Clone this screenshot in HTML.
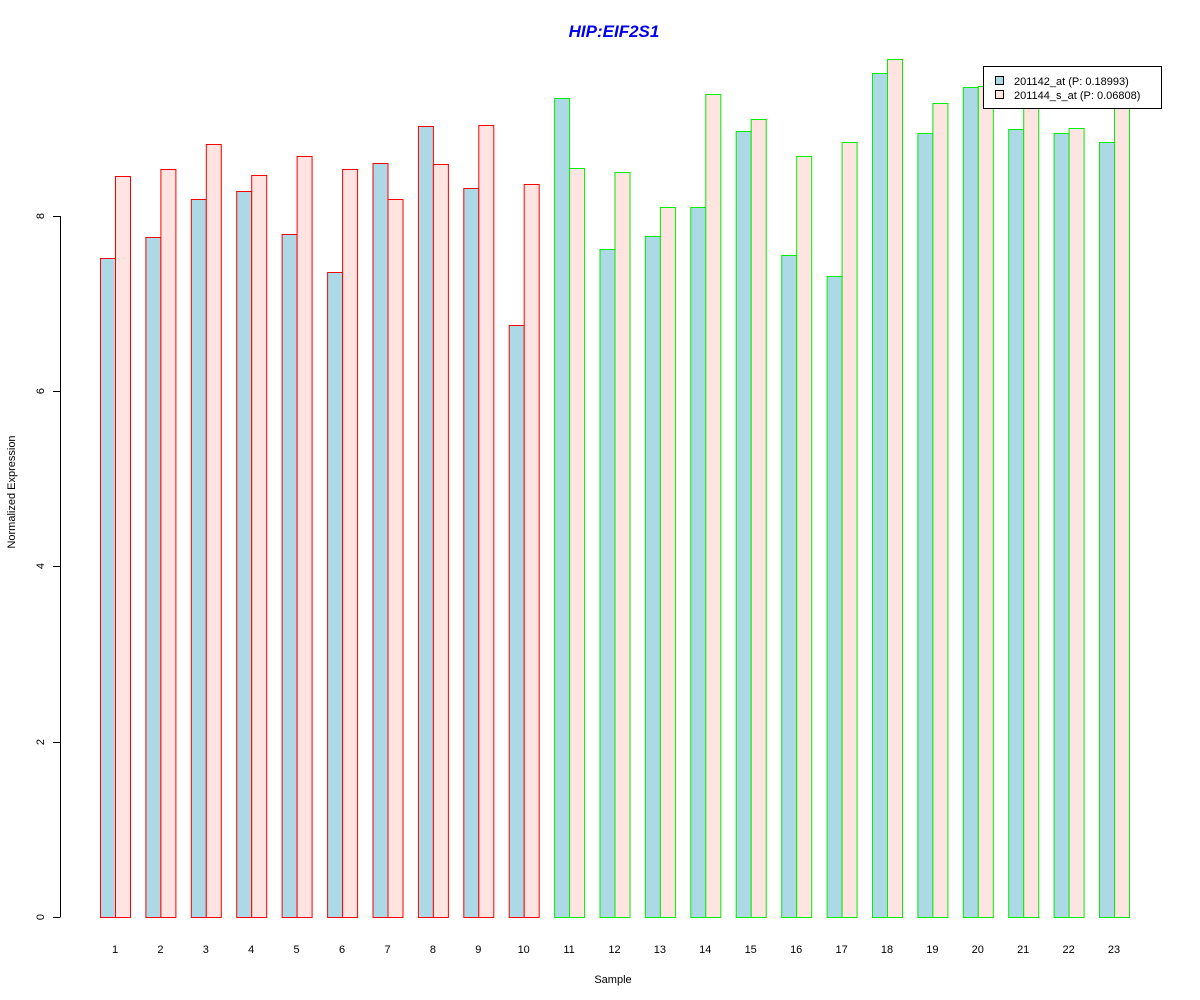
<!DOCTYPE html>
<html><head><meta charset="utf-8"><style>body{margin:0;background:#fff}svg{display:block}text{font-family:"Liberation Sans",Arial,sans-serif}</style></head>
<body>
<svg width="1200" height="1000" xmlns="http://www.w3.org/2000/svg">
<rect width="1200" height="1000" fill="#fff"/>
<text x="614" y="37" text-anchor="middle" font-size="17" font-weight="bold" font-style="italic" fill="#0000ee">HIP:EIF2S1</text>
<g stroke="#ff0000">
<rect x="100.5" y="258.5" width="15" height="659" fill="#ADD8E6"/><rect x="115.5" y="176.5" width="15" height="741" fill="#FFE4E1"/>
<rect x="145.9" y="237.5" width="15" height="680" fill="#ADD8E6"/><rect x="160.9" y="169.5" width="15" height="748" fill="#FFE4E1"/>
<rect x="191.3" y="199.5" width="15" height="718" fill="#ADD8E6"/><rect x="206.3" y="144.5" width="15" height="773" fill="#FFE4E1"/>
<rect x="236.7" y="191.5" width="15" height="726" fill="#ADD8E6"/><rect x="251.7" y="175.5" width="15" height="742" fill="#FFE4E1"/>
<rect x="282.1" y="234.5" width="15" height="683" fill="#ADD8E6"/><rect x="297.1" y="156.5" width="15" height="761" fill="#FFE4E1"/>
<rect x="327.6" y="272.5" width="15" height="645" fill="#ADD8E6"/><rect x="342.6" y="169.5" width="15" height="748" fill="#FFE4E1"/>
<rect x="373.0" y="163.5" width="15" height="754" fill="#ADD8E6"/><rect x="388.0" y="199.5" width="15" height="718" fill="#FFE4E1"/>
<rect x="418.4" y="126.5" width="15" height="791" fill="#ADD8E6"/><rect x="433.4" y="164.5" width="15" height="753" fill="#FFE4E1"/>
<rect x="463.8" y="188.5" width="15" height="729" fill="#ADD8E6"/><rect x="478.8" y="125.5" width="15" height="792" fill="#FFE4E1"/>
<rect x="509.2" y="325.5" width="15" height="592" fill="#ADD8E6"/><rect x="524.2" y="184.5" width="15" height="733" fill="#FFE4E1"/>
</g>
<g stroke="#00ee00">
<rect x="554.6" y="98.5" width="15" height="819" fill="#ADD8E6"/><rect x="569.6" y="168.5" width="15" height="749" fill="#FFE4E1"/>
<rect x="600.0" y="249.5" width="15" height="668" fill="#ADD8E6"/><rect x="615.0" y="172.5" width="15" height="745" fill="#FFE4E1"/>
<rect x="645.4" y="236.5" width="15" height="681" fill="#ADD8E6"/><rect x="660.4" y="207.5" width="15" height="710" fill="#FFE4E1"/>
<rect x="690.8" y="207.5" width="15" height="710" fill="#ADD8E6"/><rect x="705.8" y="94.5" width="15" height="823" fill="#FFE4E1"/>
<rect x="736.2" y="131.5" width="15" height="786" fill="#ADD8E6"/><rect x="751.2" y="119.5" width="15" height="798" fill="#FFE4E1"/>
<rect x="781.7" y="255.5" width="15" height="662" fill="#ADD8E6"/><rect x="796.7" y="156.5" width="15" height="761" fill="#FFE4E1"/>
<rect x="827.1" y="276.5" width="15" height="641" fill="#ADD8E6"/><rect x="842.1" y="142.5" width="15" height="775" fill="#FFE4E1"/>
<rect x="872.5" y="73.5" width="15" height="844" fill="#ADD8E6"/><rect x="887.5" y="59.5" width="15" height="858" fill="#FFE4E1"/>
<rect x="917.9" y="133.5" width="15" height="784" fill="#ADD8E6"/><rect x="932.9" y="103.5" width="15" height="814" fill="#FFE4E1"/>
<rect x="963.3" y="87.5" width="15" height="830" fill="#ADD8E6"/><rect x="978.3" y="86.5" width="15" height="831" fill="#FFE4E1"/>
<rect x="1008.7" y="129.5" width="15" height="788" fill="#ADD8E6"/><rect x="1023.7" y="100.5" width="15" height="817" fill="#FFE4E1"/>
<rect x="1054.1" y="133.5" width="15" height="784" fill="#ADD8E6"/><rect x="1069.1" y="128.5" width="15" height="789" fill="#FFE4E1"/>
<rect x="1099.5" y="142.5" width="15" height="775" fill="#ADD8E6"/><rect x="1114.5" y="105.5" width="15" height="812" fill="#FFE4E1"/>
</g>
<g stroke="#000" fill="none">
<line x1="60.5" y1="216" x2="60.5" y2="917"/>
<line x1="53" y1="917.5" x2="60.5" y2="917.5"/>
<line x1="53" y1="742.5" x2="60.5" y2="742.5"/>
<line x1="53" y1="566.5" x2="60.5" y2="566.5"/>
<line x1="53" y1="391.5" x2="60.5" y2="391.5"/>
<line x1="53" y1="216.5" x2="60.5" y2="216.5"/>
</g>
<g font-size="11" text-anchor="middle">
<text transform="translate(44,917) rotate(-90)">0</text>
<text transform="translate(44,742) rotate(-90)">2</text>
<text transform="translate(44,566) rotate(-90)">4</text>
<text transform="translate(44,391) rotate(-90)">6</text>
<text transform="translate(44,216) rotate(-90)">8</text>
<text transform="translate(15,492) rotate(-90)">Normalized Expression</text>
<text x="613" y="983">Sample</text>
<text x="115" y="953">1</text><text x="160.4" y="953">2</text><text x="205.8" y="953">3</text><text x="251.2" y="953">4</text><text x="296.6" y="953">5</text><text x="342.1" y="953">6</text><text x="387.5" y="953">7</text><text x="432.9" y="953">8</text><text x="478.3" y="953">9</text><text x="523.7" y="953">10</text><text x="569.1" y="953">11</text><text x="614.5" y="953">12</text><text x="659.9" y="953">13</text><text x="705.3" y="953">14</text><text x="750.7" y="953">15</text><text x="796.2" y="953">16</text><text x="841.6" y="953">17</text><text x="887" y="953">18</text><text x="932.4" y="953">19</text><text x="977.8" y="953">20</text><text x="1023.2" y="953">21</text><text x="1068.6" y="953">22</text><text x="1114" y="953">23</text>
</g>
<rect x="983.5" y="66.5" width="178" height="42" fill="#fff" stroke="#000"/>
<rect x="995.5" y="76.5" width="8" height="8" fill="#ADD8E6" stroke="#000"/>
<rect x="995.5" y="90.5" width="8" height="8" fill="#FFE4E1" stroke="#000"/>
<text x="1014" y="85" font-size="11">201142_at (P: 0.18993)</text>
<text x="1014" y="99" font-size="11">201144_s_at (P: 0.06808)</text>
</svg>
</body></html>
